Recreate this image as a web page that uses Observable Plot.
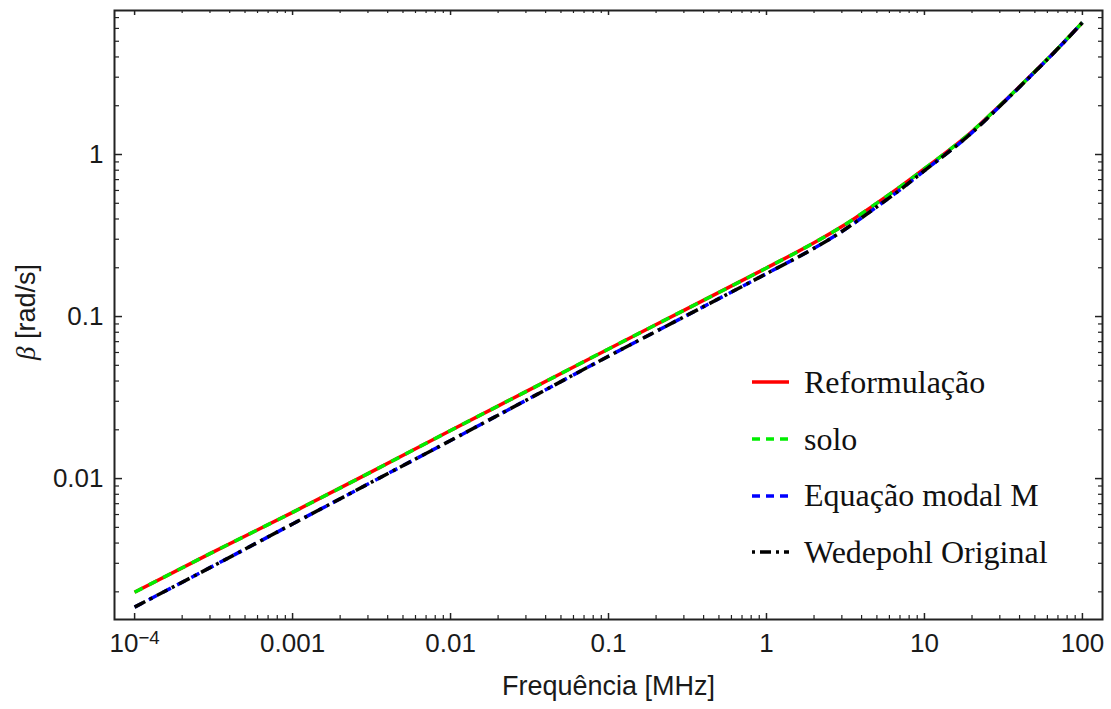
<!DOCTYPE html>
<html><head><meta charset="utf-8">
<script src="https://cdn.jsdelivr.net/npm/d3@7"></script>
<script src="https://cdn.jsdelivr.net/npm/@observablehq/plot@0.6"></script>
<style>
html,body{margin:0;padding:0;background:#fff;}
#wrap{position:relative;width:1111px;height:709px;overflow:hidden;background:#fff}
#legend{position:absolute;left:750px;top:354px;font-family:"Liberation Serif","Times New Roman",serif;font-size:32px;color:#111}
.row{display:flex;align-items:center;height:56.7px;white-space:nowrap}
.row svg{margin-right:14px;flex:none}
</style></head><body>
<div id="wrap"><div id="chart"></div><div id="legend"></div></div>
<script>
// ---- data ----
const frequency = [0.0001, 0.0003, 0.001, 0.003, 0.01, 0.03, 0.1, 0.3, 1, 2, 3, 5, 7, 10, 20, 30, 50, 70, 100];
const reformulacao = [0.00199, 0.00344, 0.00619, 0.01073, 0.0198, 0.0344, 0.0631, 0.1092, 0.1995, 0.285, 0.359, 0.501, 0.631, 0.817, 1.387, 2.005, 3.25, 4.52, 6.53];
const solo = [0.00199, 0.00344, 0.00619, 0.01073, 0.0198, 0.0344, 0.0631, 0.1092, 0.1995, 0.285, 0.359, 0.501, 0.631, 0.817, 1.387, 2.005, 3.25, 4.52, 6.53];
const equacaoModalM = [0.00161, 0.00282, 0.00525, 0.00925, 0.01718, 0.0304, 0.0569, 0.0995, 0.184, 0.264, 0.335, 0.476, 0.605, 0.794, 1.365, 1.986, 3.236, 4.508, 6.53];
const wedepohlOriginal = [0.00161, 0.00282, 0.00525, 0.00925, 0.01718, 0.0304, 0.0569, 0.0995, 0.184, 0.264, 0.335, 0.476, 0.605, 0.794, 1.365, 1.986, 3.236, 4.508, 6.53];

const seriesNames = ["Reformulação", "solo", "Equação modal M", "Wedepohl Original"];
const seriesColors = ["#ff0000", "#00ee00", "#0000ff", "#000000"];
const seriesDash = [null, "9,7", "9,7", "12,5,3,5"];
const legendDash = [null, "8,6", "8,6", "3,5,11,5"];

const xTickValues = [0.0001, 0.001, 0.01, 0.1, 1, 10, 100];
const xTickLabels = ["10⁻⁴", "0.001", "0.01", "0.1", "1", "10", "100"];
const yTickValues = [0.01, 0.1, 1];
const yTickLabels = ["0.01", "0.1", "1"];
const xTitle = "Frequência [MHz]";
const yTitleSymbol = "β";
const yTitleUnit = " [rad/s]";

const xDomain = [7.46e-5, 134];
const yDomain = [0.00135, 7.74];

// ---- layout ----
const W = 1111, H = 709, mL = 114, mR = 9, mT = 10, mB = 90;
const innerW = W - mL - mR, innerH = H - mT - mB;

const seriesValues = [reformulacao, solo, equacaoModalM, wedepohlOriginal];

const xMinor = [];
for (const m of [0.0001, 0.001, 0.01, 0.1, 1, 10]) for (let k = 2; k <= 9; k++) xMinor.push(k * m);
const yMinor = [];
for (const m of [0.001, 0.01, 0.1, 1]) for (let k = 2; k <= 9; k++) { const v = k * m; if (v >= yDomain[0] && v <= yDomain[1]) yMinor.push(v); }

const tickStroke = "#222";
const textColor = "#1a1a1a";
const svg = Plot.plot({
  width: W, height: H,
  marginLeft: mL, marginRight: mR, marginTop: mT, marginBottom: mB,
  style: {fontFamily: "'Liberation Sans', Arial, sans-serif", fontSize: "26px", color: textColor, background: "#fff"},
  x: {type: "log", domain: xDomain},
  y: {type: "log", domain: yDomain},
  marks: [
    ...seriesValues.map((vals, i) => Plot.line(vals, {
      x: frequency, y: vals, stroke: seriesColors[i], strokeWidth: 3.5,
      strokeDasharray: seriesDash[i] || undefined, curve: "monotone-x", strokeLinecap: "butt"
    })),
    // ticks inward on all four sides
    Plot.tickX(xTickValues, {x: d => d, stroke: tickStroke, strokeWidth: 1.5, insetTop: innerH - 6}),
    Plot.tickX(xMinor, {x: d => d, stroke: tickStroke, strokeWidth: 1.2, insetTop: innerH - 4}),
    Plot.tickX(xTickValues, {x: d => d, stroke: tickStroke, strokeWidth: 1.5, insetBottom: innerH - 5}),
    Plot.tickX(xMinor, {x: d => d, stroke: tickStroke, strokeWidth: 1.2, insetBottom: innerH - 3}),
    Plot.tickY(yTickValues, {y: d => d, stroke: tickStroke, strokeWidth: 1.5, insetRight: innerW - 8}),
    Plot.tickY(yMinor, {y: d => d, stroke: tickStroke, strokeWidth: 1.2, insetRight: innerW - 5}),
    Plot.tickY(yTickValues, {y: d => d, stroke: tickStroke, strokeWidth: 1.5, insetLeft: innerW - 7}),
    Plot.tickY(yMinor, {y: d => d, stroke: tickStroke, strokeWidth: 1.2, insetLeft: innerW - 4}),
    Plot.frame({stroke: "#222", strokeWidth: 2}),
    Plot.axisX({ticks: xTickValues, tickSize: 0, tickPadding: 14, label: null, fontSize: 26, fill: textColor,
      tickFormat: d => xTickLabels[xTickValues.indexOf(d)]}),
    Plot.axisY({ticks: yTickValues, tickSize: 0, tickPadding: 11, label: null, fontSize: 26, fill: textColor,
      tickFormat: d => yTickLabels[yTickValues.indexOf(d)]}),
    Plot.text([xTitle], {text: d => d, frameAnchor: "bottom", dy: 67, lineAnchor: "middle", fontSize: 27, fill: textColor})
  ]
});
document.getElementById("chart").appendChild(svg);

// superscript exponent for the first x tick label
d3.select(svg).selectAll("text").filter(function() { return this.textContent === xTickLabels[0]; })
  .each(function() {
    const t = d3.select(this);
    t.text(null);
    t.append("tspan").text("10");
    t.append("tspan").attr("dy", "-0.45em").attr("font-size", "0.72em").text("−4");
  });

// rotated y title with italic beta
const yt = d3.select(svg).append("text")
  .attr("transform", "translate(35,312) rotate(-90)")
  .attr("text-anchor", "middle")
  .attr("font-size", 27)
  .attr("fill", textColor)
  .attr("font-family", "'Liberation Sans', Arial, sans-serif");
yt.append("tspan").attr("font-family", "'Liberation Serif', 'Times New Roman', serif").attr("font-style", "italic").text(yTitleSymbol);
yt.append("tspan").text(yTitleUnit);

// legend
const legend = d3.select("#legend");
seriesNames.forEach((name, i) => {
  const row = legend.append("div").attr("class", "row");
  const s = row.append("svg").attr("width", 40).attr("height", 12);
  s.append("line").attr("x1", 2).attr("x2", 39).attr("y1", 6).attr("y2", 6)
    .attr("stroke", seriesColors[i]).attr("stroke-width", 3.5)
    .attr("stroke-dasharray", legendDash[i]);
  row.append("span").text(name);
});
</script>
</body></html>
